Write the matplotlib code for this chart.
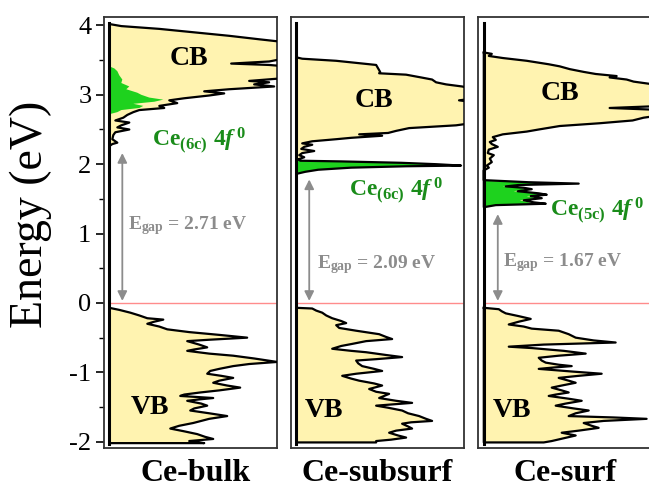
import matplotlib
matplotlib.use("Agg")
import matplotlib.pyplot as plt
import numpy as np

plt.rcParams['font.family'] = ['Liberation Serif', 'DejaVu Serif']
plt.rcParams['axes.unicode_minus'] = False
plt.rcParams['mathtext.fontset'] = 'custom'
plt.rcParams['mathtext.rm'] = 'Liberation Serif:bold'
plt.rcParams['mathtext.it'] = 'Liberation Serif:italic:bold'
plt.rcParams['mathtext.bf'] = 'Liberation Serif:bold'

# ---- Ce-bulk ----
bulk_cb_E = [4.02, 3.99, 3.95, 3.90, 3.85, 3.80, 3.76, 3.70, 3.55, 3.48, 3.45, 3.43, 3.40, 3.30,
             3.24, 3.20, 3.18, 3.15, 3.12, 3.08, 3.05, 3.02, 2.99, 2.95, 2.92, 2.88, 2.84, 2.81,
             2.78, 2.75, 2.71, 2.67, 2.63, 2.60, 2.56, 2.53, 2.50, 2.46, 2.42, 2.36, 2.31, 2.29, 2.26]
bulk_cb_dos = [0, 12, 50, 85, 120, 150, 175, 185, 185, 160, 122, 160, 185, 185,
               175, 140, 160, 145, 165, 120, 95, 115, 100, 75, 60, 68, 50, 55,
               30, 24, 18, 14, 6, 20, 12, 8, 20, 6, 4, 3, 8, 3, 0]
bulk_f_E = [3.41, 3.38, 3.34, 3.28, 3.22, 3.17, 3.12, 3.08, 3.03, 3.00, 2.96, 2.93, 2.90,
            2.87, 2.84, 2.81, 2.78, 2.75, 2.72]
bulk_f_dos = [0, 5, 8, 10, 13, 12, 20, 17, 28, 32, 40, 54, 45, 24, 34, 30, 12, 8, 0]
bulk_vb_E = [-0.07, -0.10, -0.14, -0.18, -0.22, -0.24, -0.27, -0.30, -0.34, -0.38, -0.42, -0.46,
             -0.50, -0.53, -0.55, -0.60, -0.64, -0.67, -0.69, -0.73, -0.76, -0.80, -0.85, -0.88,
             -0.91, -0.95, -0.98, -1.02, -1.05, -1.08, -1.12, -1.15, -1.19, -1.22, -1.26, -1.29,
             -1.32, -1.34, -1.37, -1.39, -1.41, -1.45, -1.48, -1.52, -1.55, -1.59, -1.63, -1.67,
             -1.73, -1.77, -1.81, -1.85, -1.89, -1.93, -1.96, -1.99, -2.02]
bulk_vb_dos = [0, 10, 21, 30, 38, 54, 45, 38, 50, 58, 80, 110,
               138, 100, 78, 90, 98, 85, 78, 100, 124, 145, 168, 140,
               124, 110, 101, 98, 112, 124, 110, 104, 118, 131, 110, 91,
               75, 71, 104, 90, 78, 92, 98, 85, 81, 100, 118, 100,
               84, 70, 61, 75, 88, 96, 104, 80, 95]

# ---- Ce-subsurf ----
sub_cb_E = [3.54, 3.52, 3.49, 3.46, 3.43, 3.38, 3.33, 3.31, 3.29, 3.25, 3.22, 3.18, 3.15, 3.12,
            3.08, 2.95, 2.92, 2.89, 2.60, 2.56, 2.52, 2.48, 2.45, 2.43, 2.41, 2.38, 2.36, 2.33,
            2.30, 2.28, 2.25, 2.22, 2.19, 2.16, 2.13, 2.10, 2.07, 2.05, 2.04, 2.02, 2.00, 1.98,
            1.97, 1.95, 1.92, 1.89, 1.86]
sub_cb_dos = [0, 6, 40, 60, 80, 82, 84, 83, 110, 125, 136, 140, 150, 166,
              180, 180, 163, 180, 180, 160, 113, 100, 92, 63, 86, 55, 40, 16,
              6, 16, 8, 5, 18, 6, 3, 8, 2, 4, 45, 105, 140, 165,
              110, 55, 22, 9, 0]
sub_f_E = [2.05, 2.04, 2.02, 2.00, 1.985, 1.97, 1.95, 1.92, 1.89, 1.87]
sub_f_dos = [0, 40, 100, 132, 150, 100, 50, 20, 7, 0]
sub_vb_E = [-0.07, -0.08, -0.11, -0.14, -0.18, -0.22, -0.26, -0.29, -0.32, -0.36, -0.40, -0.45,
            -0.49, -0.52, -0.55, -0.59, -0.62, -0.66, -0.69, -0.71, -0.75, -0.78, -0.81, -0.83,
            -0.87, -0.91, -0.95, -0.98, -1.02, -1.05, -1.09, -1.12, -1.16, -1.19, -1.24, -1.28,
            -1.31, -1.34, -1.37, -1.41, -1.44, -1.48, -1.51, -1.55, -1.59, -1.63, -1.67, -1.70,
            -1.72, -1.74, -1.78, -1.81, -1.84, -1.87, -1.91, -1.94, -1.97, -1.99, -2.01]
sub_vb_dos = [0, 16, 20, 26, 30, 36, 45, 50, 40, 43, 60, 83,
              90, 96, 70, 56, 45, 36, 55, 70, 90, 106, 80, 60,
              62, 66, 78, 86, 60, 46, 55, 63, 78, 86, 73, 80,
              93, 88, 83, 100, 116, 80, 92, 106, 112, 123, 130, 136,
              115, 106, 112, 116, 100, 93, 102, 110, 95, 80, 80]

# ---- Ce-surf ----
surf_cb_E = [3.61, 3.59, 3.56, 3.53, 3.49, 3.44, 3.41, 3.37, 3.33, 3.30, 3.27, 3.25, 3.22, 3.19,
             3.16, 3.12, 2.84, 2.81, 2.78, 2.70, 2.67, 2.63, 2.59, 2.55, 2.50, 2.47, 2.43, 2.39,
             2.35, 2.32, 2.29, 2.25, 2.21, 2.16, 2.13, 2.08, 2.03, 1.98, 1.95, 1.91,
             1.77, 1.74, 1.72, 1.70, 1.68, 1.66, 1.64, 1.61, 1.58, 1.56, 1.54, 1.51, 1.48,
             1.45, 1.43, 1.41, 1.38]
surf_cb_dos = [0, 8, 5, 19, 43, 65, 76, 86, 100, 112, 133, 126, 143, 150,
               165, 180, 180, 126, 180, 175, 160, 149, 116, 76, 55, 43, 19, 9,
               12, 6, 8, 14, 5, 4, 10, 6, 8, 3, 5, 0,
               0, 45, 95, 35, 22, 40, 48, 34, 55, 63, 47, 58, 40,
               50, 62, 12, 0]
surf_f_E = [1.76, 1.74, 1.72, 1.70, 1.68, 1.66, 1.64, 1.61, 1.58, 1.56, 1.54, 1.51, 1.48,
            1.45, 1.43, 1.41, 1.38]
surf_f_dos = [0, 40, 89, 30, 19, 35, 43, 30, 50, 59, 43, 53, 36, 45, 56, 9, 0]
surf_vb_E = [-0.07, -0.09, -0.12, -0.15, -0.19, -0.23, -0.27, -0.31, -0.34, -0.37, -0.40, -0.45,
             -0.50, -0.54, -0.57, -0.60, -0.63, -0.65, -0.69, -0.73, -0.76, -0.79, -0.83, -0.86,
             -0.89, -0.91, -0.93, -0.95, -0.99, -1.02, -1.05, -1.08, -1.12, -1.15, -1.19, -1.22,
             -1.26, -1.29, -1.32, -1.34, -1.38, -1.41, -1.45, -1.48, -1.52, -1.55, -1.59, -1.63,
             -1.65, -1.67, -1.70, -1.73, -1.77, -1.80, -1.84, -1.87, -1.89, -1.91, -1.95, -1.99,
             -2.01]
surf_vb_dos = [0, 15, 18, 22, 35, 47, 35, 25, 40, 48, 75, 85,
               92, 110, 132, 60, 25, 48, 80, 102, 75, 55, 58, 62,
               75, 88, 70, 55, 90, 118, 95, 75, 85, 92, 78, 68,
               78, 85, 72, 65, 85, 98, 82, 72, 90, 105, 92, 85,
               130, 163, 120, 100, 108, 115, 95, 78, 85, 92, 80, 68,
               60]

names = ['Ce-bulk', 'Ce-subsurf', 'Ce-surf']
sites = ['(6c)', '(6c)', '(5c)']
gaps = [2.71, 2.09, 1.67]
cb_E = [bulk_cb_E, sub_cb_E, surf_cb_E]
cb_dos = [bulk_cb_dos, sub_cb_dos, surf_cb_dos]
f_E = [bulk_f_E, sub_f_E, surf_f_E]
f_dos = [bulk_f_dos, sub_f_dos, surf_f_dos]
vb_E = [bulk_vb_E, sub_vb_E, surf_vb_E]
vb_dos = [bulk_vb_dos, sub_vb_dos, surf_vb_dos]

yellow = '#FFF3B0'
green = '#1ED21E'
labgreen = '#1A8C1A'
grey = '#8C8C8C'

fig = plt.figure(figsize=(6.49, 4.88), dpi=100)
lefts = [0.160, 0.448, 0.737]

# text positions (x in dos units, y in eV)
cb_pos = [(80, 3.52), (78, 2.92), (76, 3.02)]
vb_pos = [(41, -1.5), (28, -1.55), (28, -1.55)]
f_pos = [(43, 2.33), (53, 1.62), (66, 1.32)]
arrow_x = [13, 13, 14]
arrow_top = [2.16, 1.78, 1.28]
gap_pos = [(19, 1.12), (21, 0.55), (19, 0.58)]
name_shift = [0.008, 0.0, 0.0]


def closed(E, dos):
    E = np.asarray(E, float)
    dos = np.asarray(dos, float)
    return np.r_[0, dos, 0, 0], np.r_[E[0], E, E[-1], E[0]]


for i in range(3):
    ax = fig.add_axes([lefts[i], 0.082, 0.267, 0.883])
    ax.set_xlim(-5.5, 168)
    ax.set_ylim(-2.09, 4.12)

    for E, d in [(cb_E[i], cb_dos[i]), (vb_E[i], vb_dos[i])]:
        x, y = closed(E, d)
        ax.fill(x, y, facecolor=yellow, edgecolor='none', zorder=2)
    x, y = closed(f_E[i], f_dos[i])
    ax.fill(x, y, facecolor=green, edgecolor='none', zorder=3)
    for E, d in [(cb_E[i], cb_dos[i]), (vb_E[i], vb_dos[i])]:
        x, y = closed(E, d)
        ax.plot(x, y, color='k', lw=1.6, zorder=4, solid_joinstyle='round')

    ax.plot([0, 0], [-2.03, 4.03], color='k', lw=2.2, zorder=5)
    ax.plot([2, 168], [0, 0], color='#FF8C8C', lw=1.0, zorder=1)

    ax.annotate('', xy=(arrow_x[i], 0.03), xytext=(arrow_x[i], arrow_top[i]),
                arrowprops=dict(arrowstyle='<|-|>', color=grey, lw=1.3,
                                mutation_scale=14, shrinkA=0, shrinkB=0), zorder=6)
    ax.text(gap_pos[i][0], gap_pos[i][1],
            r'$\mathrm{E}_{\mathrm{gap}}$' + ' = %.2f eV' % gaps[i],
            color=grey, fontsize=14, fontweight='bold', va='center', ha='left', zorder=6)

    ax.text(cb_pos[i][0], cb_pos[i][1], 'CB', fontsize=20, fontweight='bold',
            ha='center', va='center', zorder=6)
    ax.text(vb_pos[i][0], vb_pos[i][1], 'VB', fontsize=20, fontweight='bold',
            ha='center', va='center', zorder=6)
    ax.text(f_pos[i][0], f_pos[i][1],
            r'$\mathrm{Ce}_{\mathrm{%s}}\ \mathrm{4}f^{\,\mathrm{0}}$' % sites[i],
            color=labgreen, fontsize=17, ha='left', va='center', zorder=6)

    for s in ax.spines.values():
        s.set_color('#333333')
        s.set_linewidth(1.3)
    ax.set_xticks([])
    if i == 0:
        ax.set_yticks([-2, -1, 0, 1, 2, 3, 4])
        ax.set_yticks(np.arange(-2, 4.01, 0.5), minor=True)
        ax.tick_params(axis='y', which='major', direction='out', length=6, width=1.2,
                       labelsize=19, pad=3)
        ax.tick_params(axis='y', which='minor', direction='out', length=3.5, width=1.0)
    else:
        ax.set_yticks([])

    fig.text(lefts[i] + 0.267 / 2 + name_shift[i], 0.03, names[i],
             fontsize=23, fontweight='bold', ha='center', va='center')

fig.text(0.047, 0.56, 'Energy (eV)', rotation=90, fontsize=33, ha='center', va='center')

fig.savefig('out.png', dpi=100)
